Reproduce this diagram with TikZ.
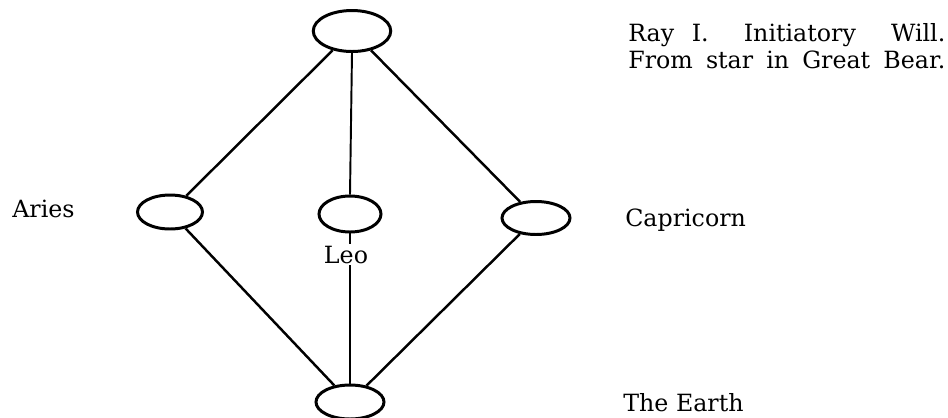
\documentclass[tikz,border=0pt]{standalone}
\usepackage{fontspec}
\setmainfont{DejaVu Serif}
\usetikzlibrary{shapes.geometric, positioning}

\tikzset{
  sign/.style={ellipse, draw, line width=1.7pt, inner sep=0pt},
  link/.style={line width=1.4pt},
}

\begin{document}
\begin{tikzpicture}[x=0.02cm, y=-0.02cm, font=\fontsize{13.5}{15.3}\selectfont]
  \useasboundingbox (0,0) rectangle (948,417);
  % Signs
  \node[sign, minimum width=1.55cm, minimum height=0.82cm] (ray) at (352,31) {};
  \node[sign, minimum width=1.3cm, minimum height=0.68cm] (aries) at (170,212) {};
  \node[sign, minimum width=1.24cm, minimum height=0.72cm] (leo) at (350,214) {};
  \node[sign, minimum width=1.36cm, minimum height=0.66cm] (capri) at (536,218) {};
  \node[sign, minimum width=1.36cm, minimum height=0.68cm] (earth) at (350,402) {};
  % Links
  \draw[link] (ray) -- (aries);
  \draw[link] (ray) -- (capri);
  \draw[link, line width=1.1pt] (ray.south) -- (leo.north);
  \draw[link] (aries) -- (earth);
  \draw[link] (capri) -- (earth);
  \draw[link, line width=1.1pt] (leo.south) -- (earth.north);
  % Labels
  \node[anchor=base west, inner sep=0pt] (ariesname) at (12,217) {Aries};
  \node[anchor=base, fill=white, inner sep=1pt] (leoname) at (346,263) {Leo};
  \node[anchor=base west, inner sep=0pt] (capriname) at (625,226) {Capricorn};
  \node[anchor=base west, inner sep=0pt] (earthname) at (623,411) {The Earth};
  % two-line note, base is the second line
  \node[anchor=base west, align=left, inner sep=0pt] (rayname) at (628,68)
    {\makebox[6.34cm][s]{Ray I.\ \ Initiatory\ \ Will.}\\
     \makebox[6.34cm][s]{From star in Great Bear.}};
\end{tikzpicture}
\end{document}
